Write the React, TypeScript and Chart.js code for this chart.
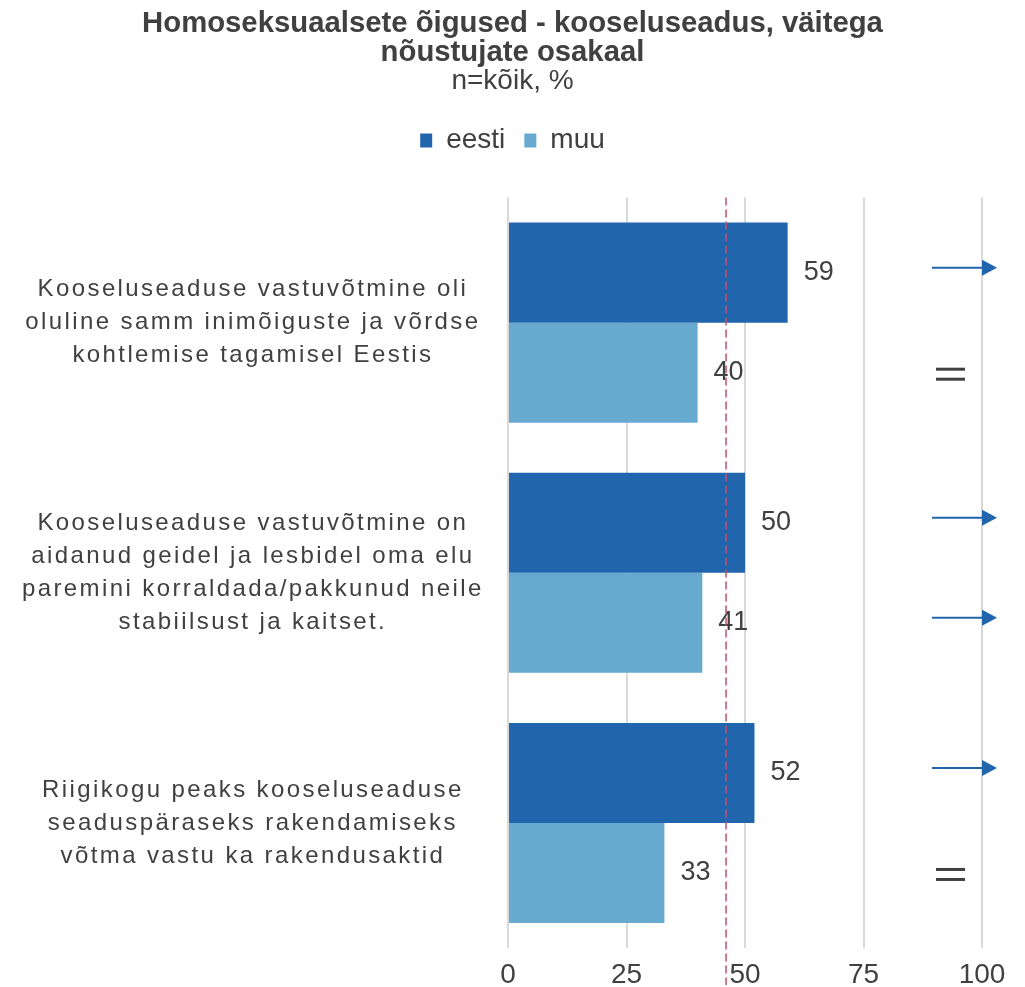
import React, { useEffect, useRef } from 'react';
import { Chart, registerables } from 'chart.js';

Chart.register(...registerables);

const titleLines = ['Homoseksuaalsete õigused - kooseluseadus, väitega', 'nõustujate osakaal'];
const subtitleText = 'n=kõik, %';
const categories: string[][] = [
  ['Kooseluseaduse vastuvõtmine oli', 'oluline samm inimõiguste ja võrdse', 'kohtlemise tagamisel Eestis'],
  ['Kooseluseaduse vastuvõtmine on', 'aidanud geidel ja lesbidel oma elu', 'paremini korraldada/pakkunud neile', 'stabiilsust ja kaitset.'],
  ['Riigikogu peaks kooseluseaduse', 'seaduspäraseks rakendamiseks', 'võtma vastu ka rakendusaktid'],
];
const seriesNames = ['eesti', 'muu'];
const eestiValues = [59, 50, 52];
const muuValues = [40, 41, 33];
const eestiTrend = ['up', 'up', 'up'];
const muuTrend = ['eq', 'up', 'eq'];
const referenceValue = 46;
const xTickValues = [0, 25, 50, 75, 100];

const COLORS = {
  eesti: '#2166AC',
  muu: '#67A9CF',
  text: '#404040',
  grid: '#D9D9D9',
  ref: '#C4506A',
};
const FONT = '"Liberation Sans", Arial, Helvetica, sans-serif';

const legendSpacer = {
  id: 'legendSpacer',
  beforeInit(chart: any) {
    const legend = chart.legend;
    if (!legend) return;
    const origFit = legend.fit;
    legend.fit = function () {
      origFit.call(this);
      this.height += 33;
    };
  },
};

const letterSpacingPlugin = {
  id: 'letterSpacingY',
  afterLayout(chart: any) {
    const y = chart.scales.y;
    if (!y || y._lsPatched) return;
    const orig = y.drawLabels;
    y.drawLabels = function (area: any) {
      const ctx = this.ctx;
      const prev = ctx.letterSpacing;
      ctx.letterSpacing = '2.4px';
      orig.call(this, area);
      ctx.letterSpacing = prev || '0px';
    };
    y._lsPatched = true;
  },
};

const valueLabels = {
  id: 'valueLabels',
  afterDatasetsDraw(chart: any) {
    const { ctx } = chart;
    chart.data.datasets.forEach((ds: any, di: number) => {
      const meta = chart.getDatasetMeta(di);
      meta.data.forEach((bar: any, i: number) => {
        ctx.save();
        ctx.font = `27px ${FONT}`;
        ctx.fillStyle = COLORS.text;
        ctx.textAlign = 'left';
        ctx.textBaseline = 'middle';
        ctx.fillText(String(ds.data[i]), bar.x + 16, bar.y);
        ctx.restore();
      });
    });
  },
};

const trendMarks = {
  id: 'trendMarks',
  afterDatasetsDraw(chart: any) {
    const { ctx, chartArea } = chart;
    const trends = [eestiTrend, muuTrend];
    trends.forEach((tr, di) => {
      const meta = chart.getDatasetMeta(di);
      meta.data.forEach((bar: any, i: number) => {
        const r = chartArea.right;
        ctx.save();
        if (tr[i] === 'up') {
          const y = bar.y - 5;
          ctx.strokeStyle = COLORS.eesti;
          ctx.lineWidth = 2;
          ctx.beginPath();
          ctx.moveTo(r - 50, y);
          ctx.lineTo(r + 2, y);
          ctx.stroke();
          ctx.fillStyle = COLORS.eesti;
          ctx.beginPath();
          ctx.moveTo(r, y - 8);
          ctx.lineTo(r + 15, y);
          ctx.lineTo(r, y + 8);
          ctx.closePath();
          ctx.fill();
        } else if (tr[i] === 'eq') {
          const y = bar.y + 1;
          ctx.fillStyle = COLORS.text;
          ctx.fillRect(r - 46, y - 6, 29, 3);
          ctx.fillRect(r - 46, y + 4, 29, 3);
        }
        ctx.restore();
      });
    });
  },
};

const refLine = {
  id: 'refLine',
  afterDraw(chart: any) {
    const { ctx, chartArea } = chart;
    const x = chart.scales.x.getPixelForValue(referenceValue);
    ctx.save();
    ctx.strokeStyle = COLORS.ref;
    ctx.lineWidth = 1.5;
    ctx.setLineDash([8, 4]);
    ctx.beginPath();
    ctx.moveTo(x, chartArea.top);
    ctx.lineTo(x, chart.height - 2);
    ctx.stroke();
    ctx.restore();
  },
};

export default function App() {
  const canvasRef = useRef<HTMLCanvasElement | null>(null);

  useEffect(() => {
    if (!canvasRef.current) return;
    Chart.defaults.font.family = FONT;
    Chart.defaults.color = COLORS.text;
    const chart = new Chart(canvasRef.current, {
      type: 'bar',
      data: {
        labels: categories,
        datasets: [
          {
            label: seriesNames[0],
            data: eestiValues,
            backgroundColor: COLORS.eesti,
            categoryPercentage: 0.8,
            barPercentage: 1.0,
          },
          {
            label: seriesNames[1],
            data: muuValues,
            backgroundColor: COLORS.muu,
            categoryPercentage: 0.8,
            barPercentage: 1.0,
          },
        ],
      },
      options: {
        indexAxis: 'y',
        animation: false,
        responsive: true,
        maintainAspectRatio: false,
        layout: { padding: { left: 0, right: 0, top: 0, bottom: 0 } },
        plugins: {
          title: {
            display: true,
            text: titleLines,
            color: COLORS.text,
            font: { size: 29.3, weight: 'bold', family: FONT, lineHeight: 1.0 },
            padding: { top: 9, bottom: 0 },
          },
          subtitle: {
            display: true,
            text: subtitleText,
            color: COLORS.text,
            font: { size: 28, family: FONT, lineHeight: 1.0 },
            padding: { top: 0, bottom: 12 },
          },
          legend: {
            display: true,
            position: 'top',
            labels: {
              color: COLORS.text,
              font: { size: 28, family: FONT },
              boxWidth: 12,
              boxHeight: 14,
              padding: 19,
            },
          },
          tooltip: { enabled: false },
        },
        scales: {
          x: {
            type: 'linear',
            min: 0,
            max: 100,
            afterBuildTicks: (s: any) => {
              s.ticks = xTickValues.map((v) => ({ value: v }));
            },
            afterFit: (s: any) => {
              s.height = 39;
              s.paddingRight = 43;
            },
            grid: { color: COLORS.grid, lineWidth: 2, drawTicks: false },
            border: { display: false },
            ticks: {
              color: COLORS.text,
              font: { size: 28, family: FONT, lineHeight: 1.0 },
              padding: 13,
            },
          },
          y: {
            type: 'category',
            grid: { display: false, drawTicks: false },
            border: { display: false },
            afterFit: (s: any) => {
              s.width = 508;
              s.paddingTop = 0;
              s.paddingBottom = 0;
            },
            ticks: {
              color: COLORS.text,
              font: { size: 24, family: FONT, lineHeight: 1.375 },
              crossAlign: 'center',
              padding: 65,
            },
          },
        },
      },
      plugins: [legendSpacer, letterSpacingPlugin, valueLabels, trendMarks, refLine],
    } as any);
    return () => chart.destroy();
  }, []);

  return (
    <div style={{ position: 'fixed', left: 0, top: 0, width: 1025, height: 987, background: '#fff' }}>
      <canvas ref={canvasRef} />
    </div>
  );
}
